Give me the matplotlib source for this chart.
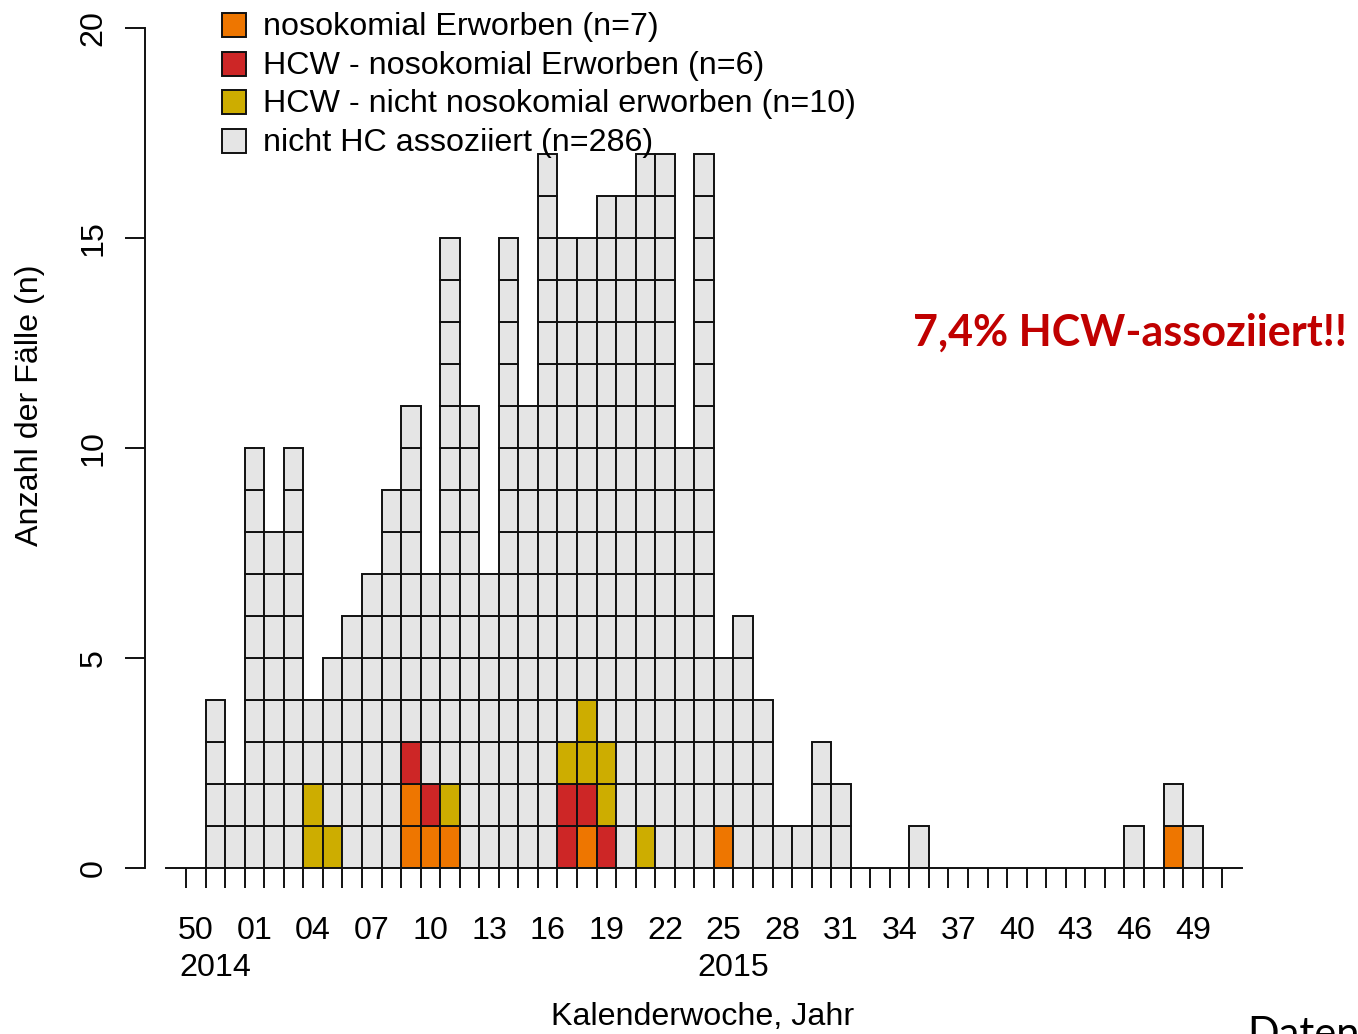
import numpy as np
import matplotlib
matplotlib.use("Agg")
import matplotlib.pyplot as plt
from matplotlib.patches import Rectangle

plt.rcParams['font.family'] = ['Liberation Sans', 'DejaVu Sans']

# Kalenderwochen 50/2014 bis 50/2015
week_nr = [50, 51, 52] + list(range(1, 51))
year = ["2014"] * 3 + ["2015"] * 50

# Faelle je Woche und Kategorie (Stapelreihenfolge von unten)
orange = [0, 0, 0, 0, 0, 0, 0, 0, 0, 0, 0, 2, 1, 1, 0, 0, 0, 0, 0, 0, 1, 0, 0, 0, 0, 0, 0,
          1, 0, 0, 0, 0, 0, 0, 0, 0, 0, 0, 0, 0, 0, 0, 0, 0, 0, 0, 0, 0, 0, 0, 1, 0, 0]
red = [0, 0, 0, 0, 0, 0, 0, 0, 0, 0, 0, 1, 1, 0, 0, 0, 0, 0, 0, 2, 1, 1, 0, 0, 0, 0, 0,
       0, 0, 0, 0, 0, 0, 0, 0, 0, 0, 0, 0, 0, 0, 0, 0, 0, 0, 0, 0, 0, 0, 0, 0, 0, 0]
yellow = [0, 0, 0, 0, 0, 0, 2, 1, 0, 0, 0, 0, 0, 1, 0, 0, 0, 0, 0, 1, 2, 2, 0, 1, 0, 0, 0,
          0, 0, 0, 0, 0, 0, 0, 0, 0, 0, 0, 0, 0, 0, 0, 0, 0, 0, 0, 0, 0, 0, 0, 0, 0, 0]
gray = [0, 4, 2, 10, 8, 10, 2, 4, 6, 7, 9, 8, 5, 13, 11, 7, 15, 11, 17, 12, 11, 13, 16, 16, 17, 10, 17,
        4, 6, 4, 1, 1, 3, 2, 0, 0, 0, 1, 0, 0, 0, 0, 0, 0, 0, 0, 0, 0, 1, 0, 1, 1, 0]

categories = ["nosokomial Erworben (n=7)",
              "HCW - nosokomial Erworben (n=6)",
              "HCW - nicht nosokomial erworben (n=10)",
              "nicht HC assoziiert (n=286)"]
colors = ["#EE7600", "#CD2626", "#CDAD00", "#E5E5E5"]

FS = 23.2

W, H = 1358, 1034
fig = plt.figure(figsize=(W / 100, H / 100), dpi=100)
ax = fig.add_axes([145 / W, 1 - 868 / H, (1242 - 145) / W, (868 - 28) / H])

n = len(week_nr)
xs, bots, cols = [], [], []
bottom = np.zeros(n)
for counts, c in zip([orange, red, yellow, gray], colors):
    for k in range(n):
        for j in range(counts[k]):
            xs.append(k)
            bots.append(bottom[k] + j)
            cols.append(c)
    bottom += np.array(counts)

ax.bar(xs, 1, width=1, bottom=bots, align='edge', color=cols,
       edgecolor='#111111', linewidth=1.4)

ax.set_xlim((145 - 186) / 19.55, (1242 - 186) / 19.55)
ax.set_ylim(0, 20)

for s in ['top', 'right']:
    ax.spines[s].set_visible(False)
ax.spines['left'].set_bounds(0, 20)
ax.spines['bottom'].set_bounds(-1, n + 1)
for s in ['left', 'bottom']:
    ax.spines[s].set_linewidth(1.4)
    ax.spines[s].set_color('#111111')

ax.set_yticks([0, 5, 10, 15, 20])
ax.tick_params(axis='y', length=14.4, width=1.4, color='#111111', labelsize=FS,
               pad=12, labelrotation=90)
for lbl in ax.get_yticklabels():
    lbl.set_va('center')

ax.set_xticks(np.arange(0, n + 1))
ax.set_xticklabels([])
ax.tick_params(axis='x', which='major', length=14.4, width=1.4, color='#111111')
lab_pos = np.arange(0, n, 3)
ax.set_xticks(lab_pos + 0.5, minor=True)
ax.set_xticklabels(["%02d" % week_nr[k] for k in lab_pos], minor=True)
ax.tick_params(axis='x', which='minor', length=0, labelsize=FS, pad=34.5)

for y in ["2014", "2015"]:
    idx = [k for k in range(n) if year[k] == y]
    ax.text((min(idx) + max(idx) + 1) / 2, (868 - 968) / 840, y, fontsize=FS,
            ha='center', va='center', transform=ax.get_xaxis_transform())

fig.text(703 / W, 1 - 1017 / H, "Kalenderwoche, Jahr", fontsize=FS, ha='center', va='center')
fig.text(30 / W, 1 - 405 / H, "Anzahl der Fälle (n)", fontsize=FS, rotation=90,
         ha='center', va='center')

# Legende
for i, (lab, c) in enumerate(zip(categories, colors)):
    yc = 25 + 38.7 * i
    fig.add_artist(Rectangle((222 / W, 1 - (yc + 12) / H), 24 / W, 24 / H, transform=fig.transFigure,
                             facecolor=c, edgecolor='#111111', linewidth=1.4))
    fig.text(263 / W, 1 - (yc + 2) / H, lab, fontsize=FS, ha='left', va='center')

fig.text(913 / W, 1 - 333 / H, "7,4% HCW-assoziiert!!", color="#C00000", fontweight='bold',
         fontsize=31, family=['Lato', 'DejaVu Sans'], ha='left', va='center')
fig.text(1247 / W, 1 - 1016 / H, "Daten", fontsize=30, family=['Lato', 'DejaVu Sans'],
         ha='left', va='top')

fig.savefig("out.png", dpi=100)
